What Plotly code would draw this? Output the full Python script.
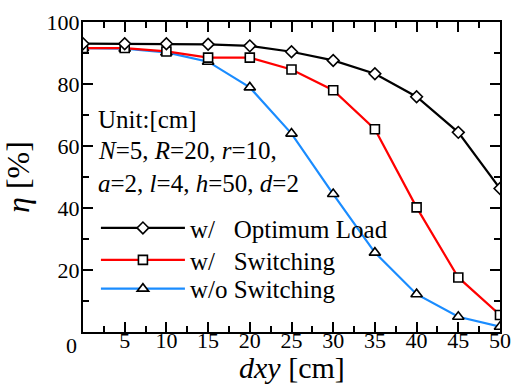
import plotly.graph_objects as go

dxy = [0, 5, 10, 15, 20, 25, 30, 35, 40, 45, 50]
eta_optimum = [93.0, 93.0, 93.0, 92.8, 92.3, 90.4, 87.6, 83.3, 75.9, 64.4, 46.3]
eta_switch = [91.6, 91.6, 90.5, 88.5, 88.5, 84.7, 78.0, 65.4, 40.2, 17.6, 5.5]
eta_noswitch = [91.6, 91.4, 90.2, 87.2, 78.9, 64.0, 44.5, 25.6, 12.2, 4.9, 1.7]

names = ["w/\u00a0\u00a0\u00a0Optimum Load", "w/\u00a0\u00a0\u00a0Switching", "w/o Switching"]
x_ticks = [5, 10, 15, 20, 25, 30, 35, 40, 45, 50]
y_ticks = [20, 40, 60, 80, 100]

FONT = "Liberation Serif"

fig = go.Figure()
fig.add_trace(go.Scatter(
    x=dxy, y=eta_noswitch, name=names[2], mode="lines+markers", legend="legend3",
    line=dict(color="#1a8cff", width=2.2),
    marker=dict(symbol="triangle-up", size=10, color="white", line=dict(color="black", width=1.6)),
))
fig.add_trace(go.Scatter(
    x=dxy, y=eta_switch, name=names[1], mode="lines+markers", legend="legend2",
    line=dict(color="#ff0000", width=2.2),
    marker=dict(symbol="square", size=9, color="white", line=dict(color="black", width=1.6)),
))
fig.add_trace(go.Scatter(
    x=dxy, y=eta_optimum, name=names[0], mode="lines+markers", legend="legend",
    line=dict(color="black", width=2.2),
    marker=dict(symbol="diamond", size=9, color="white", line=dict(color="black", width=1.6)),
))

axis_common = dict(
    showline=True, linecolor="black", linewidth=2, mirror="allticks",
    ticks="inside", ticklen=10, tickwidth=1.5, tickcolor="black",
    showgrid=False, zeroline=False, automargin=False,
    tickfont=dict(family=FONT, size=22, color="black"),
)

fig.update_xaxes(
    range=[0, 50], tickvals=x_ticks, ticktext=[str(v) for v in x_ticks],
    ticklabelstandoff=-12,
    minor=dict(dtick=2.5, tick0=0, ticks="inside", ticklen=6, tickwidth=1.5, tickcolor="black"),
    **axis_common,
)
fig.update_yaxes(
    range=[0, 100], tickvals=y_ticks, ticktext=[str(v) for v in y_ticks],
    ticklabelstandoff=-3,
    minor=dict(dtick=10, tick0=0, ticks="inside", ticklen=6, tickwidth=1.5, tickcolor="black"),
    title=dict(text="<i>η</i> [%]", font=dict(family=FONT, size=32, color="black")),
    **axis_common,
)

fig.add_annotation(x=0.5, y=-0.113, xref="paper", yref="paper", text="<i>dxy</i> [cm]",
                   showarrow=False, xanchor="center", yanchor="middle",
                   font=dict(family=FONT, size=30, color="black"))

fig.add_annotation(x=0, y=0, xref="x", yref="y", text="0", showarrow=False,
                   xanchor="center", yanchor="top", xshift=-12, yshift=1,
                   font=dict(family=FONT, size=22, color="black"))

ann_font = dict(family=FONT, size=25, color="black")
fig.add_annotation(x=0.03, y=0.685, xref="paper", yref="paper", text="Unit:[cm]",
                   showarrow=False, xanchor="left", yanchor="middle", font=ann_font)
fig.add_annotation(x=0.03, y=0.585, xref="paper", yref="paper",
                   text="<i>N</i>=5, <i>R</i>=20, <i>r</i>=10,",
                   showarrow=False, xanchor="left", yanchor="middle", font=ann_font)
fig.add_annotation(x=0.03, y=0.48, xref="paper", yref="paper",
                   text="<i>a</i>=2, <i>l</i>=4, <i>h</i>=50, <i>d</i>=2",
                   showarrow=False, xanchor="left", yanchor="middle", font=ann_font)

legend_common = dict(
    x=0.031, xanchor="left", yanchor="middle",
    bgcolor="rgba(0,0,0,0)", borderwidth=0,
    font=dict(family=FONT, size=25, color="black"),
    itemwidth=84,
)

fig.update_layout(
    width=511, height=385,
    margin=dict(l=83, r=11, t=22, b=53),
    paper_bgcolor="white", plot_bgcolor="white",
    showlegend=True,
    legend=dict(y=0.335, **legend_common),
    legend2=dict(y=0.232, **legend_common),
    legend3=dict(y=0.139, **legend_common),
)

fig.write_html("out.html", config={"displayModeBar": False},
               post_script="document.body.style.margin='0';document.body.style.padding='0';")
